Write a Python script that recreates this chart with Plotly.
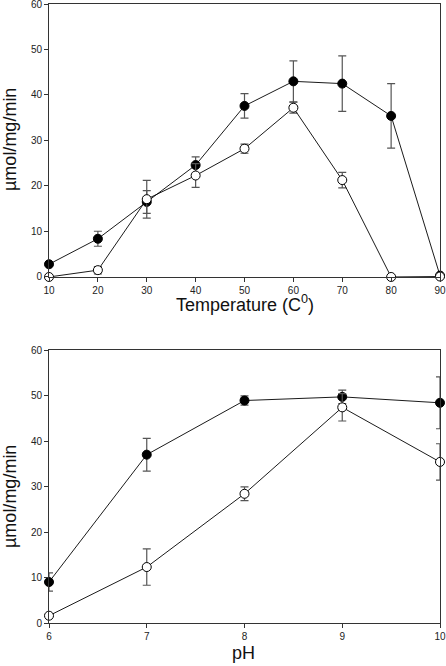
import plotly.graph_objects as go

# Top panel: temperature
temp = [10, 20, 30, 40, 50, 60, 70, 80, 90]
temp_filled = [2.8, 8.4, 16.5, 24.6, 37.6, 43.0, 42.5, 35.4, 0.3]
temp_filled_err = [0.4, 1.65, 2.5, 1.8, 2.7, 4.5, 6.1, 7.1, 0.2]
temp_open = [0.0, 1.5, 17.1, 22.3, 28.2, 37.2, 21.3, 0.0, 0.1]
temp_open_err = [0.1, 0.8, 4.15, 2.6, 1.0, 1.2, 1.7, 0.0, 0.1]

# Bottom panel: pH
ph = [6, 7, 8, 9, 10]
ph_filled = [9.0, 37.0, 48.9, 49.7, 48.4]
ph_filled_err = [2.0, 3.6, 1.0, 1.5, 5.7]
ph_open = [1.6, 12.3, 28.4, 47.4, 35.4]
ph_open_err = [0.4, 4.0, 1.5, 3.0, 4.0]

temp_ticks = [10, 20, 30, 40, 50, 60, 70, 80, 90]
ph_ticks = [6, 7, 8, 9, 10]
y_ticks = [0, 10, 20, 30, 40, 50, 60]

ERR_COLOR = "#555555"
FONT = "Arial, Liberation Sans, sans-serif"


def add_series(fig, x, y, err, filled, xa, ya):
    fig.add_trace(go.Scatter(
        x=x, y=y, mode="lines+markers", xaxis=xa, yaxis=ya,
        line=dict(color="black", width=0.9),
        marker=dict(size=9, color="black" if filled else "white",
                    line=dict(color="black", width=1)),
        error_y=dict(type="data", array=err, visible=True, color=ERR_COLOR,
                     thickness=1.2, width=4),
        cliponaxis=False, showlegend=False,
    ))


fig = go.Figure()
add_series(fig, temp, temp_filled, temp_filled_err, True, "x", "y")
add_series(fig, temp, temp_open, temp_open_err, False, "x", "y")
add_series(fig, ph, ph_filled, ph_filled_err, True, "x2", "y2")
add_series(fig, ph, ph_open, ph_open_err, False, "x2", "y2")

axis_common = dict(
    showline=True, linecolor="#333333", linewidth=1, mirror=True,
    ticks="outside", ticklen=4, tickcolor="#333333", showgrid=False,
    zeroline=False, automargin=False, ticklabeloverflow="allow",
    tickfont=dict(family=FONT, size=10, color="#222222"),
)

# plot area spans pixel rows 4..623 and columns 49..440
def px_x(p):
    return (p - 49) / 391.0

def px_y(p):
    return (623 - p) / 619.0

annotations = [
    dict(text="µmol/mg/min", x=px_x(10), y=px_y(140), textangle=-90),
    dict(text="µmol/mg/min", x=px_x(10), y=px_y(497), textangle=-90),
    dict(text="Temperature (C<sup>0</sup>)", x=px_x(245), y=px_y(304)),
    dict(text="pH", x=px_x(243), y=px_y(653)),
]
for a in annotations:
    a.update(xref="paper", yref="paper", showarrow=False, xanchor="center",
             yanchor="middle", font=dict(family=FONT, size=18, color="#111111"))

fig.update_layout(
    width=446, height=666,
    margin=dict(l=49, r=6, t=4, b=43),
    plot_bgcolor="white", paper_bgcolor="white",
    font=dict(family=FONT, color="#222222"),
    xaxis=dict(axis_common, range=[10, 90], tickvals=temp_ticks, anchor="y"),
    yaxis=dict(axis_common, range=[0, 60], tickvals=y_ticks, domain=[0.559, 1.0], anchor="x"),
    xaxis2=dict(axis_common, range=[6, 10], tickvals=ph_ticks, anchor="y2"),
    yaxis2=dict(axis_common, range=[0, 60], tickvals=y_ticks, domain=[0.0, 0.441], anchor="x2"),
    annotations=annotations,
)

fig.write_html(
    "out.html",
    config={"displayModeBar": False},
    post_script="document.body.style.margin='0px';document.body.style.overflow='hidden';",
)
